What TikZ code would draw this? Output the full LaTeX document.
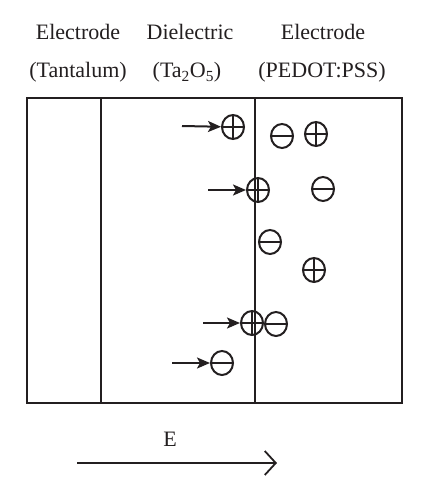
\documentclass[tikz,border=0pt]{standalone}
\usepackage{fontspec}
\setmainfont{Liberation Serif}
\usetikzlibrary{arrows.meta,shapes.geometric}
\definecolor{ink}{HTML}{231F20}
\tikzset{
  ion/.style={draw=ink, line width=2pt, ellipse, inner sep=0pt, minimum width=22pt, minimum height=24pt},
  posion/.style={ion, path picture={
      \draw[ink, line width=2pt] (path picture bounding box.west) -- (path picture bounding box.east);
      \draw[ink, line width=2pt] (path picture bounding box.north) -- (path picture bounding box.south);}},
  negion/.style={ion, path picture={
      \draw[ink, line width=2pt] (path picture bounding box.west) -- (path picture bounding box.east);}},
  push/.style={ink, line width=2pt, -{Stealth[length=13pt,width=11pt,inset=3pt]}},
  ttl/.style={text=ink, font=\fontsize{22}{24}\selectfont, inner sep=0pt, anchor=base},
  wall/.style={ink, line width=2pt},
}
\begin{document}
\begin{tikzpicture}[x=1pt,y=-1pt]
\useasboundingbox (0,0) rectangle (427,500);
% titles
\node[ttl] (t1) at (78,40) {Electrode};
\node[ttl] (t2) at (78,78) {(Tantalum)};
\node[ttl] (t3) at (190,40) {Dielectric};
\node[ttl] (t4) at (187,78) {(Ta\textsubscript{2}O\textsubscript{5})};
\node[ttl] (t5) at (323,40) {Electrode};
\node[ttl] (t6) at (322,78) {(PEDOT:PSS)};
% box
\draw[wall] (27,98) rectangle (402,403);
\draw[wall] (101,98) -- (101,403);
\draw[wall] (255,98) -- (255,403);
% ions
\node[posion] (i1) at (233,127) {};
\node[negion] (i2) at (282,136) {};
\node[posion] (i3) at (316,134) {};
\node[posion] (i4) at (258,190) {};
\node[negion] (i5) at (323,189) {};
\node[negion] (i6) at (270,242) {};
\node[posion] (i7) at (314,270) {};
\node[posion] (i8) at (252,323) {};
\node[negion] (i9) at (276,324) {};
\node[negion] (i10) at (222,363) {};
% push arrows
\coordinate (a1) at (182,126);
\coordinate (a4) at (208,190);
\coordinate (a8) at (203,323);
\coordinate (a10) at (172,363);
\draw[push] (a1) -- (i1);
\draw[push] (a4) -- (i4);
\draw[push] (a8) -- (i8);
\draw[push] (a10) -- (i10);
% field
\node[ttl] (E) at (170,446) {E};
\coordinate (e0) at (77,463);
\coordinate (e1) at (277,463);
\draw[ink, line width=1.8pt, -{Straight Barb[length=11pt,width=24pt]}] (e0) -- (e1);
\end{tikzpicture}
\end{document}
